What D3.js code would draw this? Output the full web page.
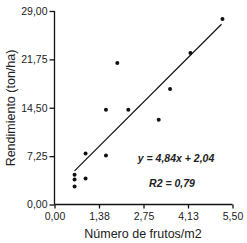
<!DOCTYPE html>
<html>
<head>
<meta charset="utf-8">
<script src="https://cdn.jsdelivr.net/npm/d3@7"></script>
<style>
  body { margin: 0; background: #fff; }
  text { font-family: "Liberation Sans", Arial, sans-serif; fill: #222; }
</style>
</head>
<body>
<div id="chart"></div>
<script>
// frutos/m2 vs rendimiento
const frutos = [0.62, 0.62, 0.62, 0.96, 0.96, 1.59, 1.59, 1.94, 2.28, 3.22, 3.57, 4.20, 5.19]
const rendimiento = [4.45, 3.74, 2.69, 7.64, 3.89, 7.34, 14.2, 21.2, 14.2, 12.7, 17.3, 22.7, 27.8]
const xTicks = [0, 1.375, 2.75, 4.125, 5.5]
const xTickLabels = ['0,00', '1,38', '2,75', '4,13', '5,50']
const yTicks = [0, 7.25, 14.5, 21.75, 29]
const yTickLabels = ['0,00', '7,25', '14,50', '21,75', '29,00']
const slope = 4.84
const intercept = 2.04

const width = 247
const height = 243

const svg = d3.select('#chart').append('svg')
  .attr('width', width)
  .attr('height', height)

const x = d3.scaleLinear().domain([0, 5.5]).range([54.5, 232.5])
const y = d3.scaleLinear().domain([0, 29]).range([204.5, 11])

const xAxis = svg.append('g')
  .attr('transform', `translate(0, ${y(0)})`)
  .call(d3.axisBottom(x).tickValues(xTicks).tickSize(4).tickPadding(4)
    .tickFormat((d, i) => xTickLabels[i]))

const yAxis = svg.append('g')
  .attr('transform', `translate(${x(0)}, 0)`)
  .call(d3.axisLeft(y).tickValues(yTicks).tickSize(5).tickPadding(2)
    .tickFormat((d, i) => yTickLabels[i]))

svg.selectAll('.domain, .tick line').attr('stroke', '#111').attr('stroke-width', 1.3)
svg.selectAll('.tick text').style('font-size', '10.5px').attr('fill', '#333')
// no outer ticks on the domain path
xAxis.select('.domain').attr('d', `M${x(0)},0H${x(5.5)}`)
yAxis.select('.domain').attr('d', `M0,${y(0)}V${y(29)}`)

// regression line from min x to max x
const xr = d3.extent(frutos)
svg.append('line')
  .attr('x1', x(xr[0]))
  .attr('y1', y(slope * xr[0] + intercept))
  .attr('x2', x(xr[1] - 0.03))
  .attr('y2', y(slope * (xr[1] - 0.03) + intercept))
  .attr('stroke', '#111')
  .attr('stroke-width', 1.2)

svg.selectAll('circle')
  .data(frutos)
  .enter()
  .append('circle')
  .attr('cx', d => x(d))
  .attr('cy', (d, i) => y(rendimiento[i]))
  .attr('r', 2)
  .attr('fill', '#111')

svg.append('text')
  .attr('x', 176)
  .attr('y', 162)
  .attr('text-anchor', 'middle')
  .style('font-size', '10.5px')
  .style('font-weight', 'bold')
  .style('font-style', 'italic')
  .text('y = 4,84x + 2,04')

svg.append('text')
  .attr('x', 172)
  .attr('y', 187)
  .attr('text-anchor', 'middle')
  .style('font-size', '10.5px')
  .style('font-weight', 'bold')
  .style('font-style', 'italic')
  .text('R2 = 0,79')

svg.append('text')
  .attr('x', 143)
  .attr('y', 238)
  .attr('text-anchor', 'middle')
  .style('font-size', '12.5px')
  .text('Número de frutos/m2')

svg.append('text')
  .attr('transform', 'translate(15, 108) rotate(-90)')
  .attr('text-anchor', 'middle')
  .style('font-size', '12.5px')
  .text('Rendimiento (ton/ha)')
</script>
</body>
</html>
